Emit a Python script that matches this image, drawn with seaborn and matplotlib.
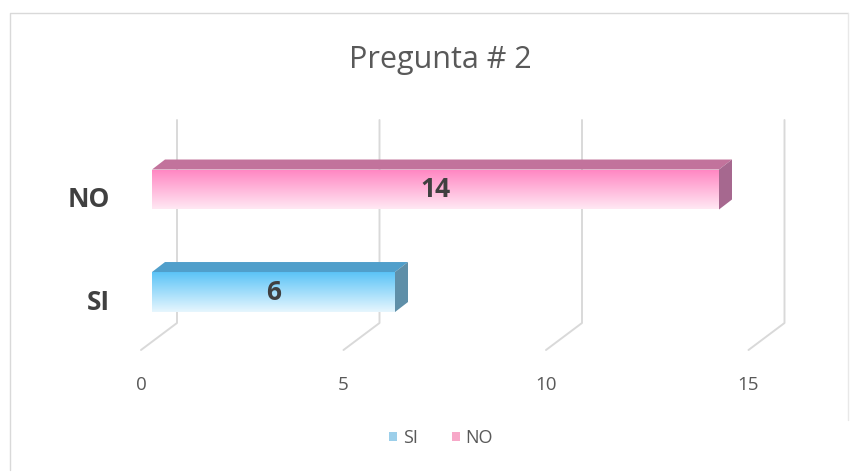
import numpy as np
import pandas as pd
import seaborn as sns
import matplotlib
matplotlib.use("Agg")
import matplotlib.pyplot as plt
from matplotlib.patches import Polygon, Patch
from matplotlib.colors import to_rgb
from matplotlib.transforms import ScaledTranslation, IdentityTransform
from matplotlib.lines import Line2D

# ---- data ----
categories = ["NO", "SI"]
values = [14, 6]
x_ticks = [0, 5, 10, 15]
title = "Pregunta # 2"
legend_order = ["SI", "NO"]

front_top = {"NO": "#FF85C2", "SI": "#5CC4F7"}
front_bot = {"NO": "#FFE8F3", "SI": "#E6F6FE"}
top_face = {"NO": "#C2739C", "SI": "#509FCB"}
side_face = {"NO": "#A6688F", "SI": "#5F8FA8"}
legend_col = {"NO": "#F7A8C8", "SI": "#9CCFEA"}

sns.set_theme(style="white")
plt.rcParams["font.family"] = ["Open Sans", "DejaVu Sans"]

W, H = 855, 473
fig = plt.figure(figsize=(W / 100, H / 100), dpi=100)
fig.patch.set_facecolor("white")

left, right, top, bottom = 152, 759.5, 120, 340
ax = fig.add_axes([left / W, 1 - bottom / H, (right - left) / W, (bottom - top) / H])

df = pd.DataFrame({"cat": categories, "val": values})
sns.barplot(data=df, y="cat", x="val", order=categories, orient="h",
            width=0.39, ax=ax, color="white")
ax.set_xlim(0, 15)
ax.set_ylim(1.468, -0.678)
for s in ax.spines.values():
    s.set_visible(False)
ax.set_facecolor("none")
ax.set_xlabel("")
ax.set_ylabel("")
ax.set_xticks(x_ticks)
ax.set_xticklabels([str(t) for t in x_ticks])
ax.tick_params(axis="x", length=0, pad=26, labelsize=13.5, labelcolor="#595959")
ax.tick_params(axis="y", length=0, pad=30, labelsize=19, labelcolor="#404040")
for lab in ax.get_yticklabels():
    lab.set_fontweight("bold")
    lab.set_transform(lab.get_transform() + ScaledTranslation(0, -7 / 100, fig.dpi_scale_trans))
for lab in ax.get_xticklabels():
    lab.set_transform(lab.get_transform() + ScaledTranslation(-11 / 100, 0, fig.dpi_scale_trans))

fig.canvas.draw()

# 3D-style gridlines behind the bars
for t in x_ticks:
    xf = ax.transData.transform((t, 0))[0]
    pts = [(xf + 25, H - 120), (xf + 25, H - 323), (xf - 11, H - 350)]
    line = Line2D([p[0] for p in pts], [p[1] for p in pts], transform=IdentityTransform(),
                  color="#D9D9D9", lw=1.4, zorder=0.5, clip_on=False)
    ax.add_line(line)

dx, dy = 13, 10
for patch, cat in zip(ax.patches, categories):
    x0 = patch.get_x(); w = patch.get_width()
    y0 = patch.get_y(); h = patch.get_height()
    c1 = np.array(to_rgb(front_top[cat])); c2 = np.array(to_rgb(front_bot[cat]))
    tt = np.linspace(0, 1, 64)[:, None]
    grad = (c1 * (1 - tt) + c2 * tt)[:, None, :]
    im = ax.imshow(grad, extent=(x0, x0 + w, y0 + h, y0), origin="upper",
                   aspect="auto", zorder=2)
    im.set_clip_path(patch)
    patch.set_edgecolor("none")
    (ax_l, ay_t) = ax.transData.transform((x0, y0))
    (ax_r, ay_b) = ax.transData.transform((x0 + w, y0 + h))
    topf = Polygon([(ax_l, ay_t), (ax_r, ay_t), (ax_r + dx, ay_t + dy), (ax_l + dx, ay_t + dy)],
                   closed=True, transform=IdentityTransform(), facecolor=top_face[cat],
                   edgecolor="none", zorder=3, clip_on=False)
    side = Polygon([(ax_r, ay_t), (ax_r + dx, ay_t + dy), (ax_r + dx, ay_b + dy), (ax_r, ay_b)],
                   closed=True, transform=IdentityTransform(), facecolor=side_face[cat],
                   edgecolor="none", zorder=3, clip_on=False)
    ax.add_patch(topf)
    ax.add_patch(side)

ax.set_xlim(0, 15)
ax.set_ylim(1.468, -0.678)

for cont in ax.containers:
    ax.bar_label(cont, label_type="center", fontsize=19, fontweight="bold",
                 color="#404040", zorder=5)

fig.text(440 / W, 1 - 60 / H, title, ha="center", va="center", fontsize=22, color="#595959")

handles = [Patch(facecolor=legend_col[c], edgecolor="none", label=c) for c in legend_order]
leg = fig.legend(handles=handles, loc="center", bbox_to_anchor=(441 / W, 1 - 438 / H), ncol=2,
                 frameon=False, handlelength=0.45, handleheight=0.45, handletextpad=0.3,
                 columnspacing=1.9, fontsize=13)
for txt in leg.get_texts():
    txt.set_color("#595959")

# chart border (top and left visible in reference)
fig.add_artist(Line2D([10 / W, 10 / W, 848 / W], [1 - 470 / H, 1 - 13 / H, 1 - 13 / H],
                      transform=fig.transFigure, color="#D9D9D9", lw=1))
fig.add_artist(Line2D([848 / W, 848 / W], [1 - 13 / H, 1 - 420 / H],
                      transform=fig.transFigure, color="#E8E8E8", lw=1))

fig.savefig("out.png", dpi=100, facecolor="white")
